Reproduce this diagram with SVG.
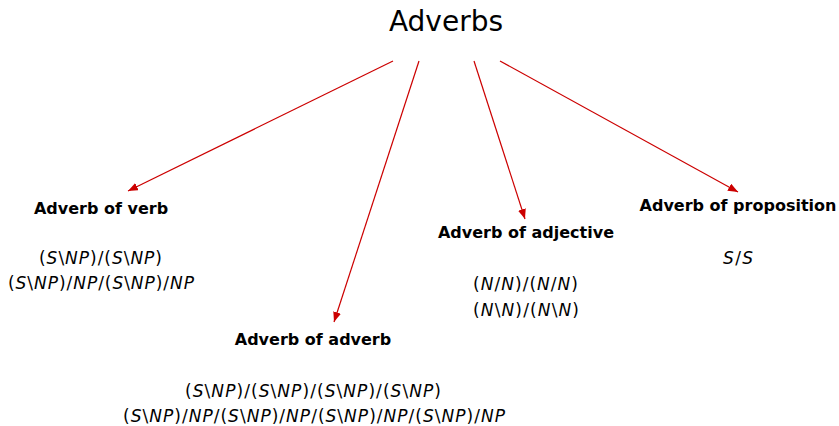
<svg xmlns="http://www.w3.org/2000/svg" width="839" height="426" viewBox="0 0 839 426">
<style>
text{font-family:"DejaVu Sans","Liberation Sans",sans-serif;fill:#000}
.title{font-size:28px}
.lbl{font-size:16px;font-weight:bold}
.m{font-size:17px}
.i{font-style:italic}
.arr{stroke:#cc0000;stroke-width:1.2;fill:none;marker-end:url(#ah)}
</style>
<defs>
<marker id="ah" viewBox="0 0 10 8" refX="10" refY="4" markerWidth="10" markerHeight="8" markerUnits="userSpaceOnUse" orient="auto">
<path d="M0,0 L10,4 L0,8 z" fill="#cc0000"/>
</marker>
</defs>
<rect width="839" height="426" fill="#fff"/>
<g id="connectors">
<line class="arr" x1="393" y1="61" x2="128" y2="191"/>
<line class="arr" x1="419" y1="61" x2="334" y2="322"/>
<line class="arr" x1="474" y1="61" x2="525" y2="219"/>
<line class="arr" x1="500" y1="61" x2="738" y2="192"/>
</g>
<g id="root"><text class="title" x="446" y="31" text-anchor="middle">Adverbs</text></g>
<g id="verb">
<text class="lbl" x="101" y="214" text-anchor="middle">Adverb of verb</text>
<text class="m" x="39" y="264" textLength="123" lengthAdjust="spacing">(<tspan class="i">S</tspan>\<tspan class="i">NP</tspan>)/(<tspan class="i">S</tspan>\<tspan class="i">NP</tspan>)</text>
<text class="m" x="8" y="289" textLength="186" lengthAdjust="spacing">(<tspan class="i">S</tspan>\<tspan class="i">NP</tspan>)/<tspan class="i">NP</tspan>/(<tspan class="i">S</tspan>\<tspan class="i">NP</tspan>)/<tspan class="i">NP</tspan></text>
</g>
<g id="adverb">
<text class="lbl" x="313" y="345" text-anchor="middle">Adverb of adverb</text>
<text class="m" x="185" y="397" textLength="256" lengthAdjust="spacing">(<tspan class="i">S</tspan>\<tspan class="i">NP</tspan>)/(<tspan class="i">S</tspan>\<tspan class="i">NP</tspan>)/(<tspan class="i">S</tspan>\<tspan class="i">NP</tspan>)/(<tspan class="i">S</tspan>\<tspan class="i">NP</tspan>)</text>
<text class="m" x="123" y="422" textLength="382" lengthAdjust="spacing">(<tspan class="i">S</tspan>\<tspan class="i">NP</tspan>)/<tspan class="i">NP</tspan>/(<tspan class="i">S</tspan>\<tspan class="i">NP</tspan>)/<tspan class="i">NP</tspan>/(<tspan class="i">S</tspan>\<tspan class="i">NP</tspan>)/<tspan class="i">NP</tspan>/(<tspan class="i">S</tspan>\<tspan class="i">NP</tspan>)/<tspan class="i">NP</tspan></text>
</g>
<g id="adjective">
<text class="lbl" x="526" y="238" text-anchor="middle">Adverb of adjective</text>
<text class="m" x="473" y="290" textLength="105" lengthAdjust="spacing">(<tspan class="i">N</tspan>/<tspan class="i">N</tspan>)/(<tspan class="i">N</tspan>/<tspan class="i">N</tspan>)</text>
<text class="m" x="473" y="316" textLength="106" lengthAdjust="spacing">(<tspan class="i">N</tspan>\<tspan class="i">N</tspan>)/(<tspan class="i">N</tspan>\<tspan class="i">N</tspan>)</text>
</g>
<g id="proposition">
<text class="lbl" x="738" y="211" text-anchor="middle">Adverb of proposition</text>
<text class="m" x="723" y="264" textLength="30" lengthAdjust="spacing"><tspan class="i">S</tspan>/<tspan class="i">S</tspan></text>
</g>
</svg>
